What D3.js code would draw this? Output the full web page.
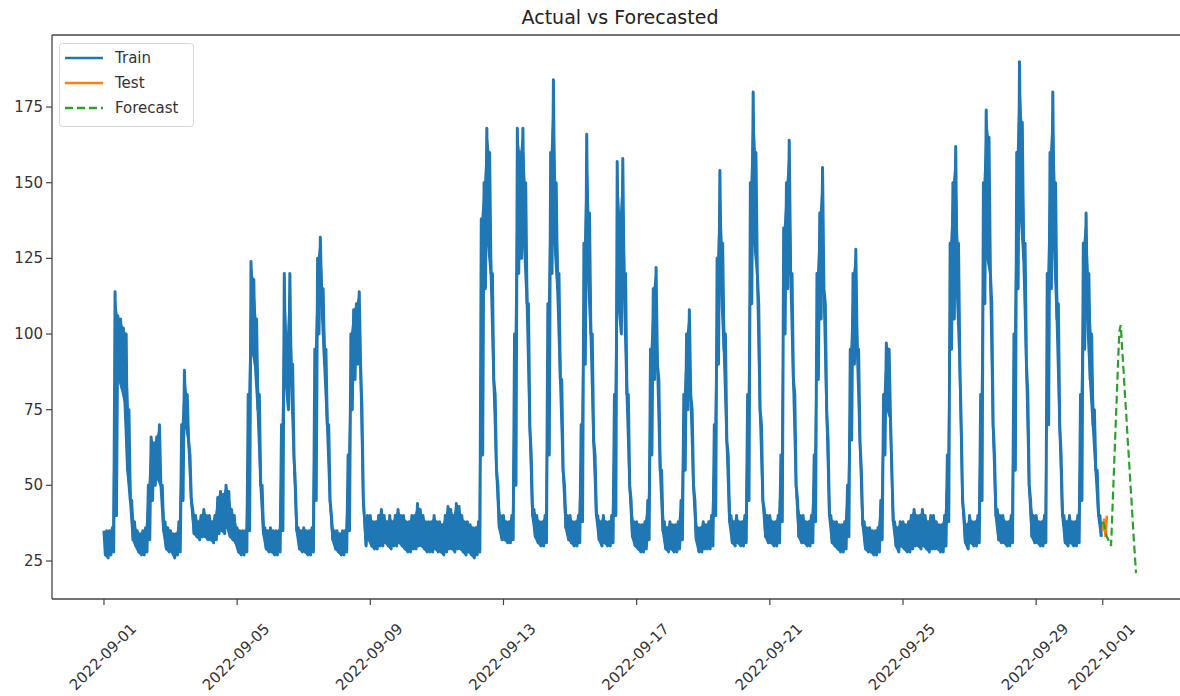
<!DOCTYPE html>
<html lang="en">
<head>
<meta charset="UTF-8">
<title>Actual vs Forecasted</title>
<script src="https://d3js.org/d3.v7.min.js"></script>
<style>
  body { margin: 0; background: #fff; }
  svg { display: block; font-family: 'DejaVu Sans', sans-serif; }
  .tick-label { font-size: 15px; fill: #333; }
  .legend-text { font-size: 15px; fill: #333; }
  .title { font-size: 19px; fill: #222; text-anchor: middle; }
</style>
</head>
<body>
<svg width="1180" height="696"></svg>
<script>
// train series, 2-hour buckets from 2022-09-01 00:00 (one row per day): upper and lower edge of the noisy band
const trainStart = "2022-09-01T00:00";
const trainHi = [
  35,35,35,36,114,106,105,102,100,75,45,38,
  35,34,35,36,50,66,64,66,70,50,38,36,
  35,34,34,38,70,88,80,60,42,40,38,40,
  42,40,40,38,40,46,48,47,50,48,42,40,
  36,35,35,35,80,124,118,105,80,50,36,35,
  36,35,35,35,70,120,100,120,90,50,36,35,
  36,35,35,36,95,125,132,115,95,70,40,35,
  35,34,35,35,60,100,108,110,114,75,38,40,
  40,38,38,40,42,40,38,40,38,40,42,40,
  40,38,38,40,40,44,42,40,38,38,38,40,
  38,38,37,40,43,42,40,44,43,40,38,38,
  37,36,36,38,138,150,168,160,120,80,50,40,
  40,38,38,40,100,168,160,168,150,110,60,42,
  40,38,38,40,110,160,184,150,120,85,50,40,
  40,38,38,40,70,130,166,140,100,60,40,38,
  40,38,38,40,80,157,140,158,120,80,45,38,
  38,37,37,38,45,95,115,122,85,55,38,36,
  38,37,37,38,45,80,100,108,75,45,36,36,
  38,37,38,40,70,125,154,130,100,60,40,38,
  40,38,38,40,80,150,180,160,110,70,42,40,
  40,38,38,40,60,135,150,164,120,80,45,40,
  40,38,38,40,60,120,140,155,110,65,40,38,
  38,37,37,38,50,95,120,128,95,55,38,36,
  36,35,35,36,45,80,97,95,55,38,36,38,
  38,37,38,40,42,40,40,42,40,38,40,40,
  38,37,37,40,60,130,150,162,130,70,40,37,
  40,38,38,40,80,150,174,165,110,60,42,40,
  40,38,38,40,100,160,190,170,130,80,45,40,
  40,38,38,40,120,160,180,150,110,60,40,38,
  40,38,38,40,80,130,140,120,100,75,55,40
];
const trainLo = [
  27,26,27,28,40,85,82,78,55,45,32,30,
  28,27,27,28,32,45,50,52,50,35,29,28,
  28,26,27,28,45,70,65,45,34,33,32,33,
  33,32,32,31,32,34,35,34,36,33,32,31,
  28,27,27,28,35,95,90,75,50,34,29,28,
  28,27,27,28,35,85,75,85,60,35,29,28,
  28,27,27,28,45,100,110,90,70,45,32,29,
  28,27,27,28,35,75,85,90,90,45,30,32,
  30,29,29,30,30,31,30,29,30,30,31,30,
  29,28,28,29,29,30,30,29,28,28,28,29,
  28,28,27,28,29,29,28,29,29,28,27,28,
  27,26,27,28,60,115,130,120,85,55,36,32,
  32,31,31,32,50,120,125,130,110,70,40,33,
  31,30,30,31,60,120,130,115,85,55,36,32,
  31,30,30,31,38,90,120,100,65,40,32,30,
  31,30,30,31,40,110,100,115,80,50,33,30,
  29,28,28,29,32,60,85,90,55,35,29,28,
  29,28,28,29,32,55,75,80,50,32,28,28,
  29,29,29,30,40,90,115,95,65,38,31,30,
  31,30,30,31,45,110,130,120,75,45,33,31,
  31,30,30,31,38,100,115,120,85,50,33,31,
  31,30,30,31,38,85,105,115,75,40,31,30,
  29,28,28,29,33,65,90,95,65,37,29,28,
  28,27,27,28,32,60,75,72,38,30,28,30,
  29,28,28,29,30,30,29,30,29,28,29,29,
  29,28,28,30,38,95,105,115,90,45,31,29,
  31,30,30,31,45,110,125,120,70,40,32,31,
  31,30,30,31,55,115,140,125,90,50,33,31,
  31,30,30,31,70,115,130,105,70,40,31,30,
  31,30,30,31,45,95,105,85,70,55,40,33
];

// hourly test and forecast values
const testStart = "2022-10-01T00:00";
const testValues = [35, 39, 33, 40];
const forecastStart = "2022-10-01T00:00";
const forecastValues = [38,37,35,33,32,31,30,42,54,66,78,90,101,103,95,88,80,73,65,58,50,43,35,28,21];

const xTickLabels = ["2022-09-01","2022-09-05","2022-09-09","2022-09-13","2022-09-17","2022-09-21","2022-09-25","2022-09-29","2022-10-01"];
const yTicks = [25, 50, 75, 100, 125, 150, 175];
const legendLabels = ["Train", "Test", "Forecast"];

const svg = d3.select("svg");
const plot = { left: 52, right: 1188, top: 35, bottom: 599 };
const parseT = d3.timeParse("%Y-%m-%dT%H:%M");
const parseD = d3.timeParse("%Y-%m-%d");
const HOUR = 3600 * 1000, DAY = 24 * HOUR;

const t0 = parseT(trainStart);
const xScale = d3.scaleTime()
  .domain([new Date(+t0 - 1.561 * DAY), new Date(+t0 + 32.561 * DAY)])
  .range([plot.left, plot.right]);
const yScale = d3.scaleLinear()
  .domain([12.45, 198.8])
  .range([plot.bottom, plot.top]);

svg.append("defs").append("clipPath").attr("id", "plot")
  .append("rect").attr("x", plot.left).attr("y", plot.top)
  .attr("width", plot.right - plot.left).attr("height", plot.bottom - plot.top);

// train band: alternate upper/lower edge each hour
const trainPts = [];
const trainBand = [];
trainHi.forEach((v, i) => {
  const t = +t0 + i * 2 * HOUR;
  trainPts.push({ t: new Date(t), v: v });
  trainPts.push({ t: new Date(t + HOUR), v: trainLo[i] });
  trainBand.push({ t: new Date(t), hi: v, lo: trainLo[i] });
});
const hourly = (start, vals) => vals.map((v, i) => ({ t: new Date(+parseT(start) + i * HOUR), v: v }));

const line = d3.line().x(d => xScale(d.t)).y(d => yScale(d.v));
const area = d3.area().x(d => xScale(d.t)).y0(d => yScale(d.lo)).y1(d => yScale(d.hi));
const g = svg.append("g").attr("clip-path", "url(#plot)");

g.append("path").datum(trainBand)
  .attr("d", area).attr("fill", "#1f77b4");

g.append("path").datum(trainPts)
  .attr("d", line).attr("fill", "none")
  .attr("stroke", "#1f77b4").attr("stroke-width", 3).attr("stroke-linejoin", "round");

g.append("path").datum(hourly(testStart, testValues))
  .attr("d", line).attr("fill", "none")
  .attr("stroke", "#ff7f0e").attr("stroke-width", 2.5);

g.append("path").datum(hourly(forecastStart, forecastValues))
  .attr("d", line).attr("fill", "none")
  .attr("stroke", "#2ca02c").attr("stroke-width", 2.2)
  .attr("stroke-dasharray", "8,4");

// spines
svg.append("line").attr("x1", plot.left).attr("x2", plot.left).attr("y1", plot.top).attr("y2", plot.bottom)
  .attr("stroke", "#444").attr("stroke-width", 1.3);
svg.append("line").attr("x1", plot.left).attr("x2", plot.right).attr("y1", plot.bottom).attr("y2", plot.bottom)
  .attr("stroke", "#444").attr("stroke-width", 1.3);
svg.append("line").attr("x1", plot.left).attr("x2", plot.right).attr("y1", plot.top).attr("y2", plot.top)
  .attr("stroke", "#444").attr("stroke-width", 1.3);

// y ticks
const yt = svg.selectAll(".ytick").data(yTicks).enter().append("g")
  .attr("transform", d => `translate(0,${yScale(d)})`);
yt.append("line").attr("x1", plot.left - 6).attr("x2", plot.left).attr("stroke", "#444").attr("stroke-width", 1.2);
yt.append("text").attr("class", "tick-label").attr("x", plot.left - 9)
  .attr("text-anchor", "end").attr("dominant-baseline", "central").text(d => d);

// x ticks
const xt = svg.selectAll(".xtick").data(xTickLabels).enter().append("g")
  .attr("transform", d => `translate(${xScale(parseD(d))},0)`);
xt.append("line").attr("y1", plot.bottom).attr("y2", plot.bottom + 6).attr("stroke", "#444").attr("stroke-width", 1.2);
xt.append("text").attr("class", "tick-label")
  .attr("text-anchor", "middle").attr("dominant-baseline", "central")
  .attr("transform", "translate(-1,657) rotate(-45)")
  .text(d => d);

// title
svg.append("text").attr("class", "title").attr("x", 620).attr("y", 24).text("Actual vs Forecasted");

// legend
const legendColors = ["#1f77b4", "#ff7f0e", "#2ca02c"];
svg.append("rect").attr("x", 59.5).attr("y", 43.5).attr("width", 134).attr("height", 83)
  .attr("rx", 3).attr("fill", "#fff").attr("fill-opacity", 0.8)
  .attr("stroke", "#d6d6d6").attr("stroke-width", 1);
const lg = svg.selectAll(".leg").data(legendLabels).enter().append("g")
  .attr("transform", (d, i) => `translate(0,${58 + i * 25})`);
lg.append("line").attr("x1", 65).attr("x2", 103)
  .attr("stroke", (d, i) => legendColors[i]).attr("stroke-width", 2.5)
  .attr("stroke-dasharray", (d, i) => i === 2 ? "8,4" : null);
lg.append("text").attr("class", "legend-text").attr("x", 115)
  .attr("dominant-baseline", "central").text(d => d);
</script>
</body>
</html>
